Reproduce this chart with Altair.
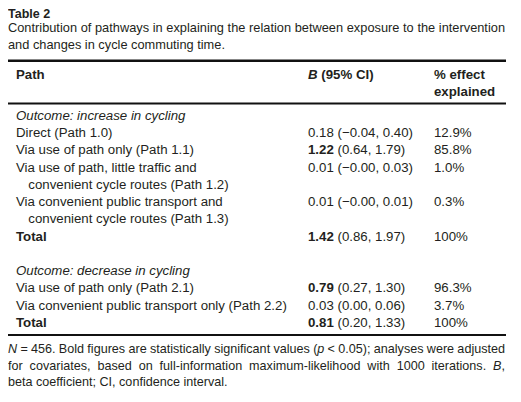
import altair as alt
import pandas as pd

# ---------------- content ----------------
title = "Table 2"
caption = [
    "Contribution of pathways in explaining the relation between exposure to the intervention",
    "and changes in cycle commuting time.",
]
head_path = "Path"
head_b = ["B", "(95% CI)"]
head_eff = ["% effect", "explained"]

outcome1 = "Outcome: increase in cycling"
paths1 = [
    ["Direct (Path 1.0)"],
    ["Via use of path only (Path 1.1)"],
    ["Via use of path, little traffic and", "convenient cycle routes (Path 1.2)"],
    ["Via convenient public transport and", "convenient cycle routes (Path 1.3)"],
    ["Total"],
]
est1 = ["0.18", "1.22", "0.01", "0.01", "1.42"]
ci1 = ["(\u22120.04, 0.40)", "(0.64, 1.79)", "(\u22120.00, 0.03)", "(\u22120.00, 0.01)", "(0.86, 1.97)"]
eff1 = ["12.9%", "85.8%", "1.0%", "0.3%", "100%"]
sig1 = [False, True, False, False, True]

outcome2 = "Outcome: decrease in cycling"
paths2 = [
    ["Via use of path only (Path 2.1)"],
    ["Via convenient public transport only (Path 2.2)"],
    ["Total"],
]
est2 = ["0.79", "0.03", "0.81"]
ci2 = ["(0.27, 1.30)", "(0.00, 0.06)", "(0.20, 1.33)"]
eff2 = ["96.3%", "3.7%", "100%"]
sig2 = [True, False, True]

# footnote tokens: (text, style, space after)
foot1 = [("N", "i", 1), ("=", "n", 1), ("456.", "n", 1), ("Bold", "n", 1), ("figures", "n", 1),
         ("are", "n", 1), ("statistically", "n", 1), ("significant", "n", 1), ("values", "n", 1),
         ("(", "n", 0), ("p", "i", 1), ("<", "n", 1), ("0.05);", "n", 1), ("analyses", "n", 1),
         ("were", "n", 1), ("adjusted", "n", 0)]
foot2 = [("for", "n", 1), ("covariates,", "n", 1), ("based", "n", 1), ("on", "n", 1),
         ("full-information", "n", 1), ("maximum-likelihood", "n", 1), ("with", "n", 1),
         ("1000", "n", 1), ("iterations.", "n", 1), ("B", "i", 0), (",", "n", 0)]
foot3 = "beta coefficient; CI, confidence interval."

# ---------------- layout helpers ----------------
W, H = 500, 382
OFF = 8            # page margin
FS = 13.25         # body font size
LINE = 17.24
X_LEFT, X_IND, X_B, X_CI, X_EFF = 16 - OFF, 28.3 - OFF, 308 - OFF, 329.5, 434 - OFF
RIGHT = 505 - OFF  # right edge of justified lines

# Liberation Sans (Arial-metric) advance widths per 1000 em
_w = {" ": 278, "(": 333, ")": 333, ",": 278, "-": 333, ".": 278, ";": 278, ":": 278,
      "<": 584, "=": 584, "%": 889}
for ch in "0123456789":
    _w[ch] = 556
_w.update(dict(zip("ABCDEFGHIJKLMNOPQRSTUVWXYZ",
                   [667, 667, 722, 722, 667, 611, 778, 722, 278, 500, 667, 556, 833, 722, 778,
                    667, 778, 722, 667, 611, 722, 667, 944, 667, 667, 611])))
_w.update(dict(zip("abcdefghijklmnopqrstuvwxyz",
                   [556, 556, 500, 556, 556, 278, 556, 556, 222, 222, 500, 222, 833, 556, 556,
                    556, 556, 333, 500, 278, 556, 500, 722, 500, 500, 500])))


def tw(s, size):
    return sum(_w.get(c, 556) for c in s) * size / 1000.0


rows = []


def add(x, y, text, size=FS, font="n"):
    rows.append(dict(x=x, y=y, text=text, size=size, font=font))


def justify(tokens, y, size, left=0.0, right=RIGHT):
    total = sum(tw(t, size) for t, _, _ in tokens)
    gaps = sum(sp for _, _, sp in tokens[:-1])
    gap = (right - left - total) / gaps
    x = left
    for t, f, sp in tokens:
        add(x, y, t, size, f)
        x += tw(t, size) + (gap if sp else 0)


add(0, 17.5 - OFF, title, 12.5, "b")
justify([(w, "n", 1) for w in caption[0].split(" ")], 32.3 - OFF, 12.8)
add(0, 48.8 - OFF, caption[1], 12.8)

add(X_LEFT, 79 - OFF, head_path, FS, "b")
add(X_B, 79 - OFF, head_b[0], FS, "bi")
add(X_B + 13.3, 79 - OFF, head_b[1], FS, "b")
add(X_EFF, 79 - OFF, head_eff[0], FS, "b")
add(X_EFF, 95.5 - OFF, head_eff[1], FS, "b")

base = 120 - OFF


def block(start, outcome, paths, est, ci, eff, sig):
    k = start
    add(X_LEFT, base + k * LINE, outcome, FS, "i")
    k += 1
    for p, e, c, f, s in zip(paths, est, ci, eff, sig):
        y = base + k * LINE
        add(X_LEFT, y, p[0], FS, "b" if p[0] == "Total" else "n")
        add(X_B, y, e, FS, "b" if s else "n")
        add(X_CI, y, c, FS, "n")
        add(X_EFF, y, f, FS, "n")
        for extra in p[1:]:
            k += 1
            add(X_IND, base + k * LINE, extra, FS, "n")
        k += 1
    return k


k = block(0, outcome1, paths1, est1, ci1, eff1, sig1)
block(k + 1, outcome2, paths2, est2, ci2, eff2, sig2)

FF = 12.6
justify(foot1, 353 - OFF, FF)
justify(foot2, 369.5 - OFF, FF)
add(0, 385.7 - OFF, foot3, FF, "n")

df = pd.DataFrame(rows)

rules = pd.DataFrame(dict(
    x=[0, 0, 0], x2=[506 - OFF] * 3,
    y=[60.7 - OFF, 103.5 - OFF, 335 - OFF], w=[2.5, 2.0, 2.0],
))

xs = alt.Scale(domain=[0, W], nice=False, zero=False)
ys = alt.Scale(domain=[0, H], nice=False, zero=False, reverse=True)

COLOR = "#231f20"
FONT = "Liberation Sans"

styles = {"n": ("normal", "normal"), "b": ("bold", "normal"),
          "i": ("normal", "italic"), "bi": ("bold", "italic")}

layers = [
    alt.Chart(rules).mark_rule(color="#111111").encode(
        x=alt.X("x:Q", scale=xs, axis=None),
        x2="x2:Q",
        y=alt.Y("y:Q", scale=ys, axis=None),
        strokeWidth=alt.StrokeWidth("w:Q", scale=None),
    )
]
for key, (wt, st) in styles.items():
    sub = df[df.font == key]
    if sub.empty:
        continue
    layers.append(
        alt.Chart(sub).mark_text(
            align="left", baseline="alphabetic", font=FONT,
            fontWeight=wt, fontStyle=st, color=COLOR,
        ).encode(
            x=alt.X("x:Q", scale=xs, axis=None),
            y=alt.Y("y:Q", scale=ys, axis=None),
            text="text:N",
            size=alt.Size("size:Q", scale=None),
        )
    )

chart = alt.layer(*layers).properties(
    width=W, height=H, padding=0, autosize="none", background="white"
).configure_view(stroke=None)

chart.save("out.html", embed_options={"renderer": "svg", "actions": False})
